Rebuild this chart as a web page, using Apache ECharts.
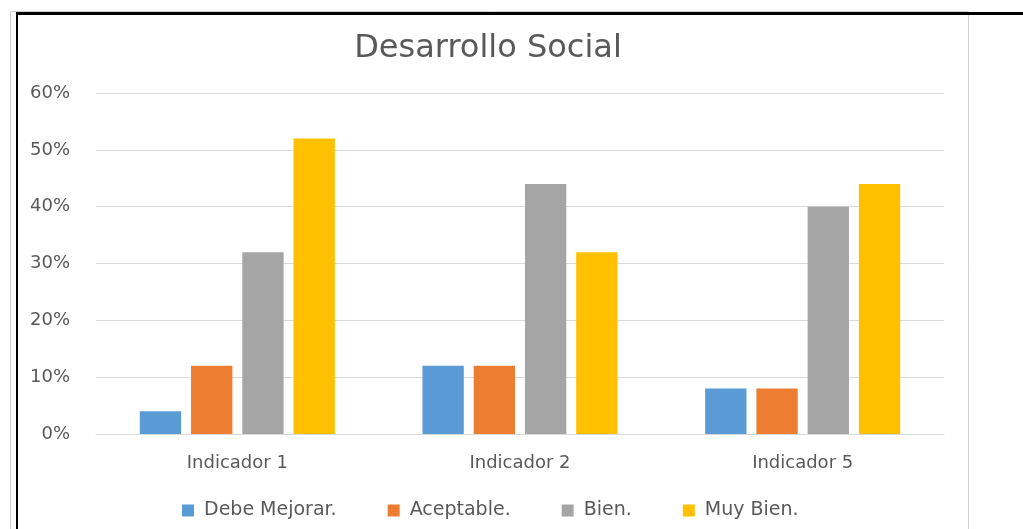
<!DOCTYPE html>
<html>
<head>
<meta charset="utf-8">
<script src="https://cdn.jsdelivr.net/npm/echarts@6/dist/echarts.min.js"></script>
<style>
    html, body { margin: 0; padding: 0; background: #fff; }
    #chart { width: 1023px; height: 529px; }
</style>
</head>
<body>
<div id="chart"></div>
<script>
// datos del gráfico
const categorias = ['Indicador 1', 'Indicador 2', 'Indicador 5']
const debeMejorar = [4, 12, 8]
const aceptable = [12, 12, 8]
const bien = [32, 44, 40]
const muyBien = [52, 32, 44]
const nombres = ['Debe Mejorar.', 'Aceptable.', 'Bien.', 'Muy Bien.']
const colores = ['#5B9BD5', '#ED7D31', '#A5A5A5', '#FFC000']

const fuente = 'DejaVu Sans'
const textoGris = '#595959'

const myChart = echarts.init(document.getElementById('chart'))

const valores = [debeMejorar, aceptable, bien, muyBien]
const series = valores.map((v, i) => ({
    name: nombres[i],
    type: 'bar',
    data: v,
    barGap: '24%',
    barCategoryGap: '31%',
    itemStyle: { color: colores[i] }
}))

myChart.setOption({
    animation: false,
    title: {
        text: 'Desarrollo Social',
        left: 483,
        textAlign: 'center',
        top: 28,
        textStyle: { fontFamily: fuente, fontSize: 32, fontWeight: 'normal', color: textoGris }
    },
    legend: {
        top: 496,
        left: 177,
        itemWidth: 12,
        itemHeight: 12,
        itemGap: 51,
        icon: 'rect',
        textStyle: { fontFamily: fuente, fontSize: 19, color: textoGris, padding: [0, 0, 0, 5] },
        data: nombres
    },
    grid: { left: 96, right: 79, top: 93, bottom: 95, containLabel: false },
    xAxis: {
        type: 'category',
        data: categorias,
        axisLine: { lineStyle: { color: '#D9D9D9', width: 1 } },
        axisTick: { show: false },
        axisLabel: { fontFamily: fuente, fontSize: 18, color: textoGris, margin: 20 }
    },
    yAxis: {
        type: 'value',
        min: 0,
        max: 60,
        interval: 10,
        axisLine: { show: false },
        axisTick: { show: false },
        splitLine: { lineStyle: { color: '#D9D9D9', width: 1 } },
        axisLabel: { fontFamily: fuente, fontSize: 18, color: textoGris, margin: 26, formatter: '{value}%' }
    },
    graphic: [
        // marco gris del área del gráfico
        { type: 'rect', shape: { x: 10.5, y: 11.5, width: 958, height: 530 }, style: { fill: 'none', stroke: '#D0D0D0', lineWidth: 1 } },
        // líneas negras
        { type: 'line', shape: { x1: 16, y1: 13.5, x2: 1023, y2: 13.5 }, style: { stroke: '#000', lineWidth: 3 } },
        { type: 'line', shape: { x1: 17, y1: 12, x2: 17, y2: 529 }, style: { stroke: '#000', lineWidth: 2 } }
    ],
    series: series
})
</script>
</body>
</html>
